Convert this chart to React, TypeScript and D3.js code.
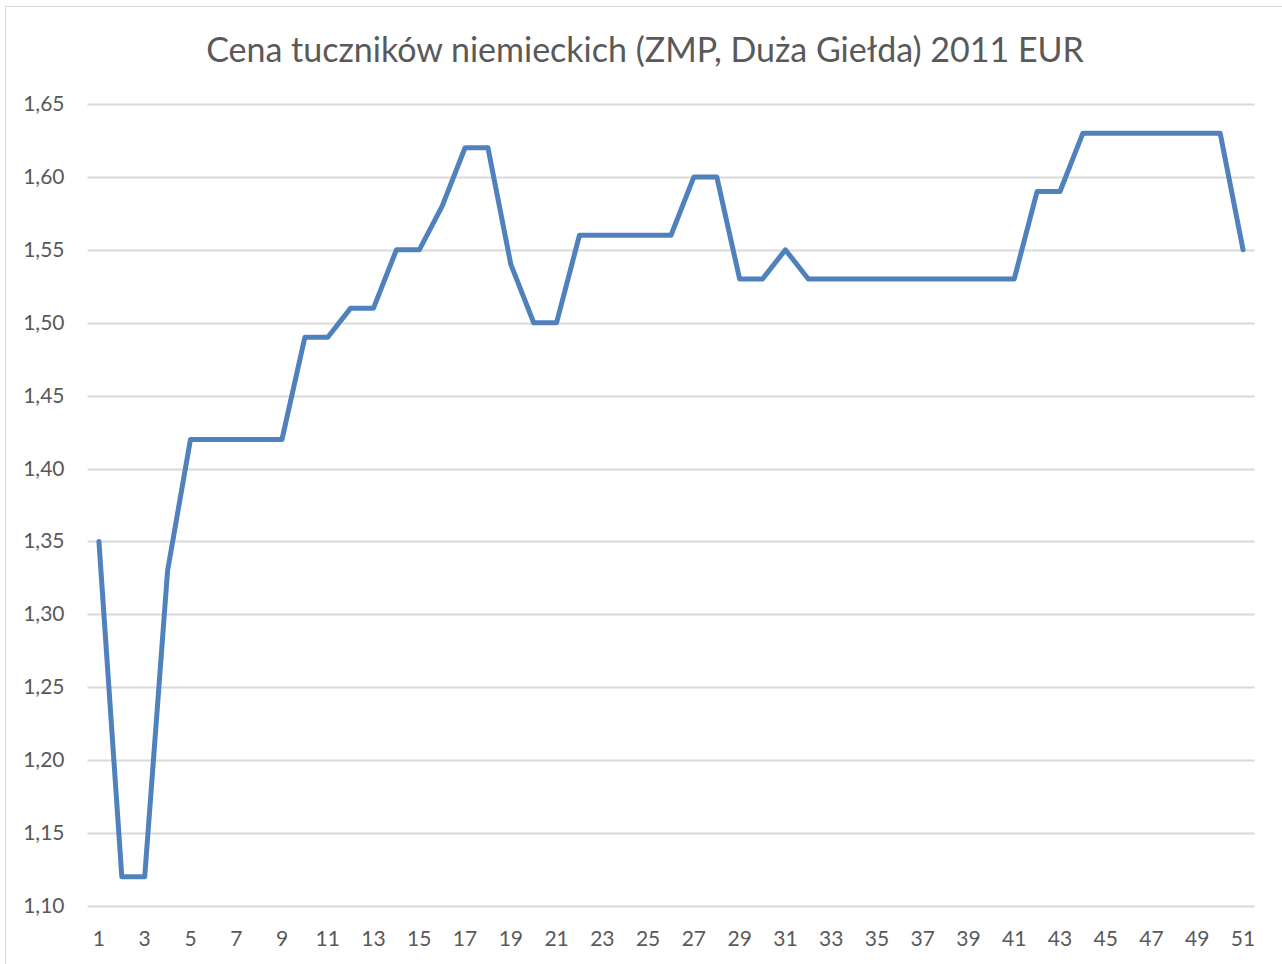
import { useEffect, useRef } from 'react';
import * as d3 from 'd3';

const title = 'Cena tuczników niemieckich (ZMP, Duża Giełda) 2011 EUR';

// weeks 1..51
const weeks = d3.range(1, 52);
const prices = [
  1.35, 1.12, 1.12, 1.33, 1.42, 1.42, 1.42, 1.42, 1.42, 1.49,
  1.49, 1.51, 1.51, 1.55, 1.55, 1.58, 1.62, 1.62, 1.54, 1.50,
  1.50, 1.56, 1.56, 1.56, 1.56, 1.56, 1.60, 1.60, 1.53, 1.53,
  1.55, 1.53, 1.53, 1.53, 1.53, 1.53, 1.53, 1.53, 1.53, 1.53,
  1.53, 1.59, 1.59, 1.63, 1.63, 1.63, 1.63, 1.63, 1.63, 1.63,
  1.55,
];
const yTicks = [1.1, 1.15, 1.2, 1.25, 1.3, 1.35, 1.4, 1.45, 1.5, 1.55, 1.6, 1.65];

const width = 1282;
const height = 964;
const font = 'Lato, "Open Sans", sans-serif';

export default function App() {
  const svgRef = useRef<SVGSVGElement>(null);

  useEffect(() => {
    if (!svgRef.current) return;
    const svg = d3.select(svgRef.current);
    svg.selectAll('*').remove();

    const margin = { top: 104, right: 27.5, bottom: 58, left: 87.5 };
    const innerW = width - margin.left - margin.right;
    const innerH = height - margin.top - margin.bottom;

    // chart area border (cut off at right/bottom)
    svg.append('rect')
      .attr('x', 5.5).attr('y', 6.5)
      .attr('width', width + 20).attr('height', height + 20)
      .attr('fill', '#fff')
      .attr('stroke', '#d9d9d9');

    svg.append('text')
      .attr('x', 645).attr('y', 62)
      .attr('text-anchor', 'middle')
      .attr('font-family', font)
      .attr('font-size', 34)
      .attr('fill', '#595959')
      .text(title);

    const x = d3.scaleBand<number>().domain(weeks).range([0, innerW]);
    const y = d3.scaleLinear().domain([1.1, 1.65]).range([innerH, 0]);
    const fmt = (v: number) => v.toFixed(2).replace('.', ',');

    const g = svg.append('g').attr('transform', `translate(${margin.left},${margin.top})`);

    // gridlines
    g.selectAll('.grid')
      .data(yTicks)
      .enter().append('line')
      .attr('x1', 0).attr('x2', innerW)
      .attr('y1', d => Math.round(y(d)) + 0.5)
      .attr('y2', d => Math.round(y(d)) + 0.5)
      .attr('stroke', '#d9d9d9')
      .attr('stroke-width', 2);

    // y labels
    g.selectAll('.ylab')
      .data(yTicks)
      .enter().append('text')
      .attr('x', -23)
      .attr('y', d => y(d) + 7)
      .attr('text-anchor', 'end')
      .attr('font-family', font)
      .attr('font-size', 21)
      .attr('fill', '#595959')
      .text(d => fmt(d));

    // x labels, every other week
    g.selectAll('.xlab')
      .data(weeks.filter(w => w % 2 === 1))
      .enter().append('text')
      .attr('x', d => (x(d) || 0) + x.bandwidth() / 2)
      .attr('y', innerH + 40)
      .attr('text-anchor', 'middle')
      .attr('font-family', font)
      .attr('font-size', 21)
      .attr('fill', '#595959')
      .text(d => String(d));

    const line = d3.line<number>()
      .x((_, i) => (x(weeks[i]) || 0) + x.bandwidth() / 2)
      .y(d => y(d));

    g.append('path')
      .datum(prices)
      .attr('fill', 'none')
      .attr('stroke', '#4f81bd')
      .attr('stroke-width', 5)
      .attr('stroke-linejoin', 'round')
      .attr('stroke-linecap', 'round')
      .attr('d', line);
  }, []);

  return (
    <svg
      ref={svgRef}
      width={width}
      height={height}
      style={{ position: 'absolute', left: 0, top: 0 }}
    />
  );
}
